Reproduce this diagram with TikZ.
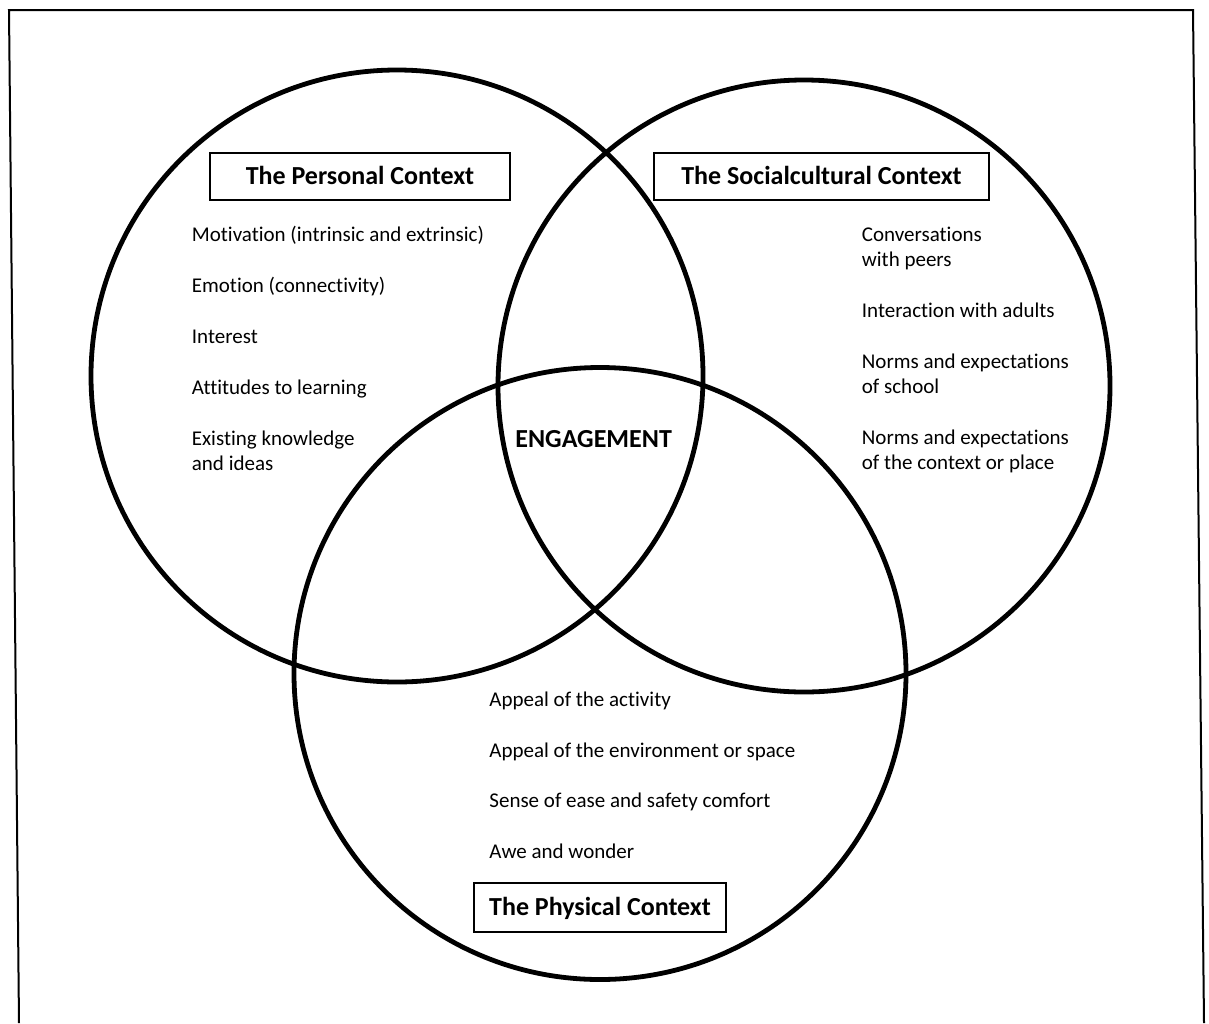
\documentclass[tikz,border=0pt]{standalone}
\usepackage{fontspec}
\setmainfont{Carlito}[Ligatures=NoCommon]
\begin{document}
\begin{tikzpicture}[x=0.5pt,y=-0.5pt,
  ring/.style={line width=2.4pt},
  frameline/.style={line width=1pt},
  titlebox/.style={draw, line width=0.7pt, inner sep=0pt, font=\fontsize{13}{15}\selectfont\bfseries, text height=8.4pt, text depth=0pt},
  item/.style={anchor=base west, inner sep=0pt, font=\fontsize{10.5}{12.5}\selectfont}
]
\useasboundingbox[fill=white] (0,0) rectangle (1209,1023);
% frame
\draw[frameline] (19,1023) -- (9,10) -- (1193,10) -- (1204,1023);
% circles
\draw[ring] (397,376) circle[radius=306];
\draw[ring] (804,386) circle[radius=306];
\draw[ring] (600,673.5) circle[radius=306];
% titles
\node[titlebox, minimum width=150pt, minimum height=23.5pt] (tpers) at (360,176.5) {The Personal Context};
\node[titlebox, minimum width=167.5pt, minimum height=23.5pt] (tsoc) at (821.5,176.5) {The Socialcultural Context};
\node[titlebox, minimum width=126pt, minimum height=24.5pt] (tphys) at (600,907.5) {The Physical Context};
% centre
\node[anchor=base west, inner sep=0pt, font=\fontsize{13}{15}\selectfont\bfseries] (eng) at (515,447.3) {ENGAGEMENT};
% personal items
\node[item] (p1) at (191.5,241.5) {Motivation (intrinsic and extrinsic)};
\node[item] (p2) at (191.5,292) {Emotion (connectivity)};
\node[item] (p3) at (191.5,343) {Interest};
\node[item] (p4) at (191.5,394) {Attitudes to learning};
\node[item] (p5) at (191.5,445) {Existing knowledge};
\node[item] (p5b) at (191.5,470) {and ideas};
% social items
\node[item] (s1) at (861.5,241.5) {Conversations};
\node[item] (s1b) at (861.5,266.5) {with peers};
\node[item] (s2) at (861.5,317) {Interaction with adults};
\node[item] (s3) at (861.5,368) {Norms and expectations};
\node[item] (s3b) at (861.5,393) {of school};
\node[item] (s4) at (861.5,444) {Norms and expectations};
\node[item] (s4b) at (861.5,469) {of the context or place};
% physical items
\node[item] (f1) at (489,706) {Appeal of the activity};
\node[item] (f2) at (489,757) {Appeal of the environment or space};
\node[item] (f3) at (489,807.5) {Sense of ease and safety comfort};
\node[item] (f4) at (489,858) {Awe and wonder};
\end{tikzpicture}
\end{document}
